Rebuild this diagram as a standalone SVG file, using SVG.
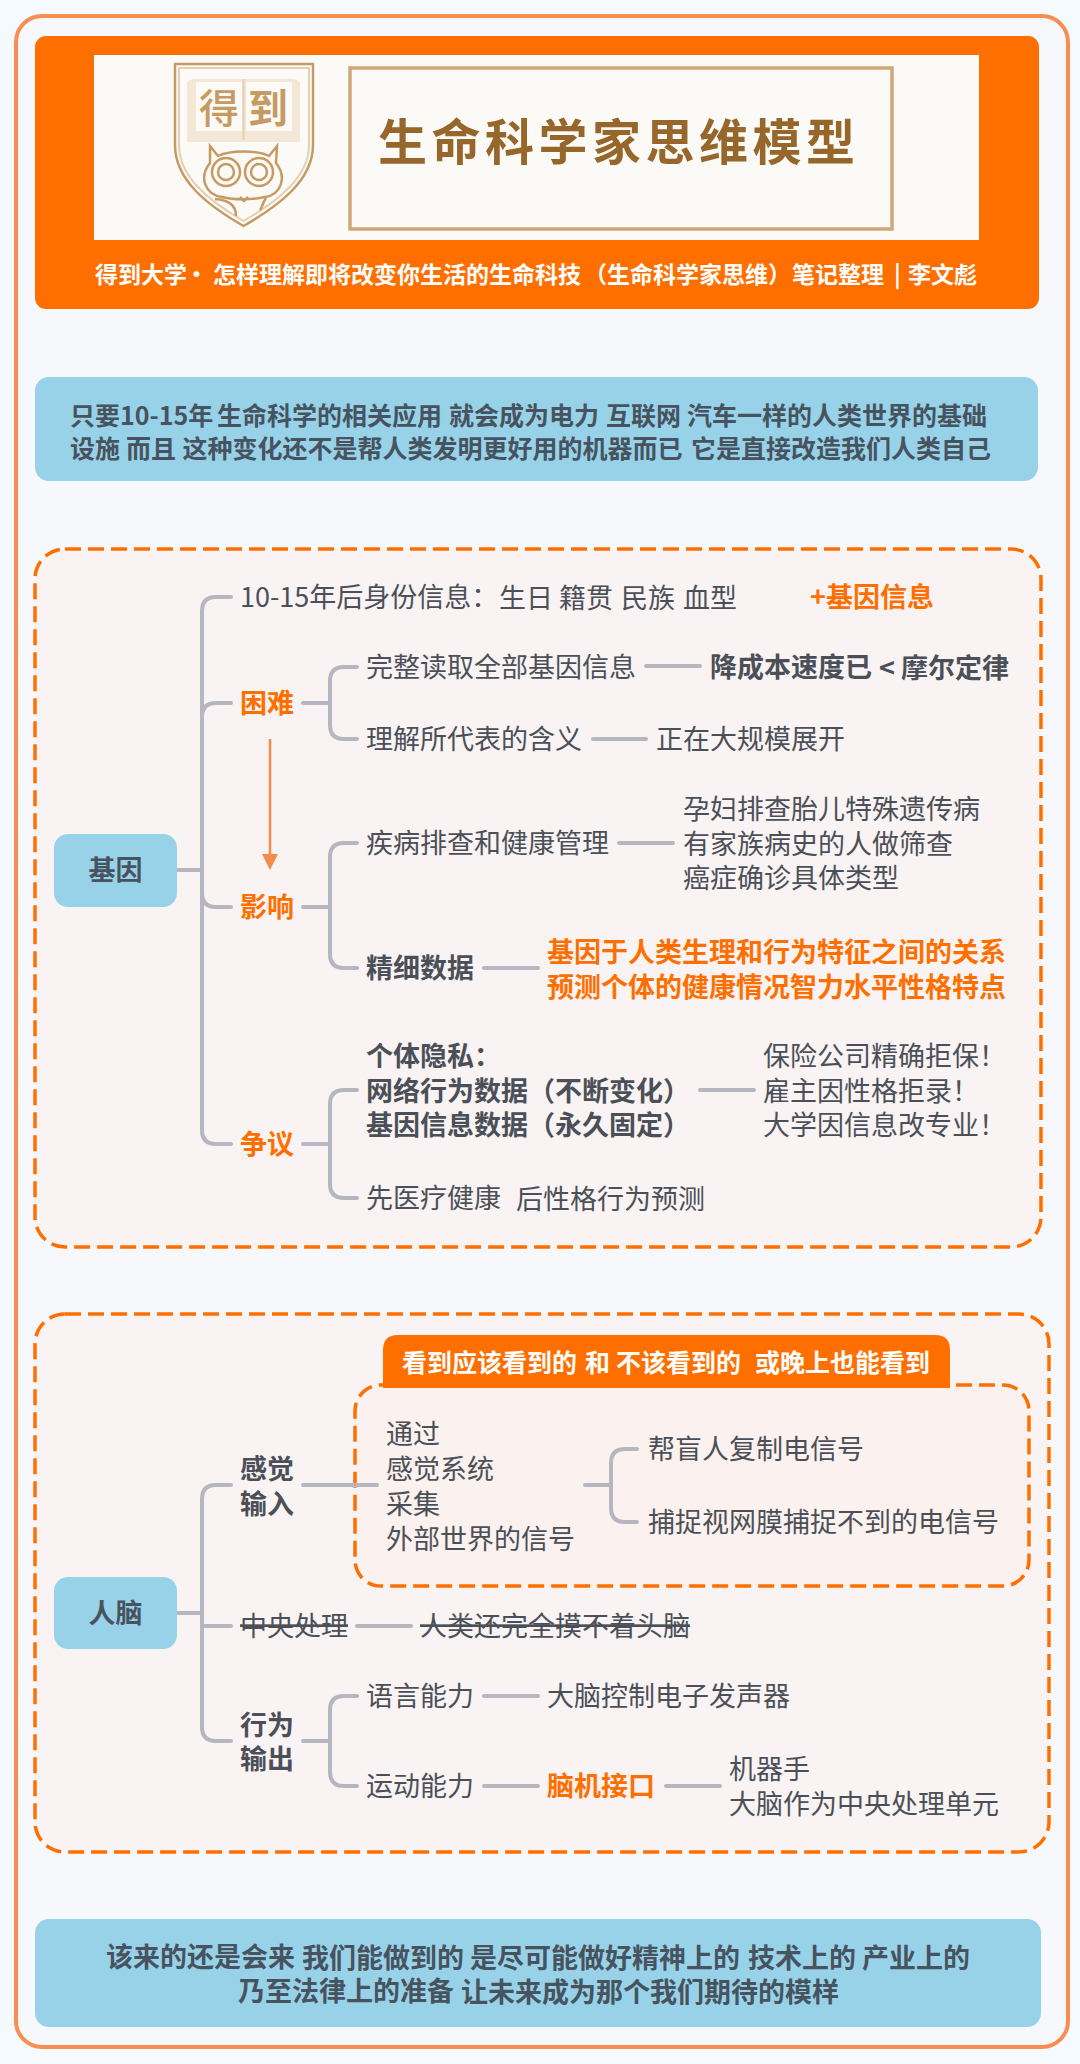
<svg xmlns="http://www.w3.org/2000/svg" width="1080" height="2064" viewBox="0 0 1080 2064">
<style>
text{font-family:"Noto Sans CJK SC","Noto Sans",sans-serif;font-size:27px;fill:#4b5058;dominant-baseline:central;transform:translateY(-1.500px)}
.b{font-weight:700}
.o{font-weight:700;fill:#ff6f00}
.w{font-weight:700;fill:#fff}
.d{font-weight:700;fill:#47535f}
.s{text-decoration:line-through}
.c{fill:none;stroke:#b6b6c0;stroke-width:4;stroke-linecap:round}
.z{stroke:#ff6f00;stroke-width:3.5;stroke-dasharray:16 7;fill:#f9f3f3}
.blue{fill:#98d2e8}
.g{fill:none;stroke:#c69a63;stroke-width:2.5}
.g2{fill:none;stroke:#e4cfb4;stroke-width:2}
</style>
<defs>
<marker id="ah" markerUnits="userSpaceOnUse" markerWidth="16" markerHeight="16" refX="1" refY="8" orient="auto" viewBox="0 0 16 16"><path d="M0 0L16 8L0 16Z" fill="#f58a4b"/></marker>
</defs>
<rect width="1080" height="2064" fill="#f5fafe"/>
<rect id="frame" x="16" y="16" width="1052" height="2031" rx="26" fill="#f7f8fb" stroke="#f98d52" stroke-width="4"/>

<g id="header">
<rect x="35" y="36" width="1004" height="273" rx="11" fill="#ff6f00"/>
<rect x="94" y="55" width="885" height="185" fill="#fbfaf7"/>
<rect x="350" y="68" width="542" height="161" fill="none" stroke="#cfa877" stroke-width="3.500"/>
<text x="378" y="140" class="b" style="font-size:49px;letter-spacing:4.500px;fill:#96662a">生命科学家思维模型</text>
<g id="logo">
<path class="g" d="M175 64H313V145C313 180 280 205 243.500 226C207 205 175 180 175 145Z"/>
<path class="g2" d="M179 68H309V145C309 177 278 201 243.500 221C209 201 179 177 179 145Z"/>
<path d="M187 82Q192 78 200 79H287Q295 78 300 82V142H187Z" fill="#f3e7d6"/>
<rect x="196" y="82" width="46" height="49" fill="#fbfaf7"/>
<rect x="246" y="82" width="46" height="49" fill="#fbfaf7"/>
<path class="g2" d="M243.500 79V140"/>
<text x="219" y="107" text-anchor="middle" style="font-size:40px;font-weight:500;fill:#c69a63">得</text>
<text x="268" y="107" text-anchor="middle" style="font-size:40px;font-weight:700;fill:#c69a63">到</text>
<path class="g" d="M210 146L218 156C230 150 257 150 269 156L277 146L276 163C288 178 280 195 265 197C252 200 234 200 222 197C206 195 198 178 210 163Z"/>
<circle class="g" cx="226" cy="172" r="14"/><circle class="g" cx="226" cy="172" r="8"/>
<circle class="g" cx="259" cy="172" r="14"/><circle class="g" cx="259" cy="172" r="8"/>
<path class="g" d="M215 199C230 200 236 206 236 216M266 198C262 204 262 208 260 210M240 197L244 201L248 197"/>
</g>
<text x="95" y="274" class="w" style="font-size:23px">得到大学<tspan x="185">·</tspan><tspan x="213">怎样理解即将改变你生活的生命科技</tspan><tspan x="584">（生命科学家思维）</tspan><tspan x="792">笔记整理</tspan><tspan x="894">|</tspan><tspan x="908">李文彪</tspan></text>
</g>

<g id="intro">
<rect class="blue" x="35" y="377" width="1003" height="104" rx="14"/>
<text x="70" y="415" class="d" style="font-size:25px">只要10-15年<tspan x="217">生命科学的相关应用</tspan><tspan x="449">就会成为电力</tspan><tspan x="606">互联网</tspan><tspan x="687">汽车一样的人类世界的基础</tspan></text>
<text x="70" y="448" class="d" style="font-size:25px">设施<tspan x="126">而且</tspan><tspan x="182.500">这种变化还不是帮人类发明更好用的机器而已</tspan><tspan x="691">它是直接改造我们人类自己</tspan></text>
</g>

<rect id="gene-box" class="z" x="35" y="549" width="1006" height="698" rx="30"/>
<rect id="brain-box" class="z" x="35" y="1314" width="1014" height="538" rx="30"/>
<rect id="sense-box" class="z" x="355" y="1385" width="674" height="201" rx="26" style="fill:#fbf1ee"/>
<g id="sense-tab">
<path d="M383 1388V1350Q383 1335 398 1335H935Q950 1335 950 1350V1388Z" fill="#ff6f00"/>
<text x="402" y="1362" class="w" style="font-size:25px">看到应该看到的<tspan x="585">和</tspan><tspan x="616">不该看到的</tspan><tspan x="755">或晚上也能看到</tspan></text>
</g>

<g id="connectors">
<path class="c" d="M177 870H202M231 597H216Q202 597 202 611V1130Q202 1144 216 1144H231M231 703H216Q202 703 202 717M231 907H216Q202 907 202 893"/>
<path class="c" d="M303 703H330M357 667H344Q330 667 330 681V725Q330 739 344 739H357"/>
<path class="c" d="M646 666H700M593 739H646"/>
<path class="c" d="M303 907H330M357 843H344Q330 843 330 857V954Q330 968 344 968H357M619 843H673M484 968H538"/>
<path class="c" d="M303 1144H330M357 1090H344Q330 1090 330 1104V1184Q330 1198 344 1198H357M700 1090H754"/>
<path d="M270 739V855" fill="none" stroke="#f58a4b" stroke-width="2.500" marker-end="url(#ah)"/>
<path class="c" d="M177 1613H202M231 1485H216Q202 1485 202 1499V1727Q202 1741 216 1741H231M202 1626H231"/>
<path class="c" d="M303 1485H377M585 1485H611M637 1449H625Q611 1449 611 1463V1508Q611 1522 625 1522H637"/>
<path class="c" d="M357 1626H411"/>
<path class="c" d="M303 1741H330M357 1696H344Q330 1696 330 1710V1772Q330 1786 344 1786H357M484 1696H538M484 1786H538M666 1786H720"/>
</g>

<g id="gene"><rect class="blue" x="54" y="834" width="123" height="73" rx="14"/><text x="115.500" y="870" text-anchor="middle" class="d">基因</text></g>
<g id="n-identity"><text x="240" y="597">10-15年后身份信息：<tspan x="499">生日</tspan><tspan x="559">籍贯</tspan><tspan x="621">民族</tspan><tspan x="683">血型</tspan></text></g>
<g id="n-plus"><text x="810" y="597" class="o">+基因信息</text></g>
<g id="n-difficulty"><text x="240" y="703" class="o">困难</text></g>
<g id="n-read"><text x="366" y="667">完整读取全部基因信息</text></g>
<g id="n-cost"><text x="710" y="667" class="b">降成本速度已<tspan x="879">&lt;</tspan><tspan x="901">摩尔定律</tspan></text></g>
<g id="n-meaning"><text x="366" y="739">理解所代表的含义</text></g>
<g id="n-ongoing"><text x="656" y="739">正在大规模展开</text></g>
<g id="n-impact"><text x="240" y="907" class="o">影响</text></g>
<g id="n-screening"><text x="366" y="843">疾病排查和健康管理</text></g>
<g id="n-screen-list"><text x="683" y="809">孕妇排查胎儿特殊遗传病</text><text x="683" y="844">有家族病史的人做筛查</text><text x="683" y="878">癌症确诊具体类型</text></g>
<g id="n-finedata"><text x="366" y="968" class="b">精细数据</text></g>
<g id="n-finedata-list"><text x="547" y="952" class="o">基因于人类生理和行为特征之间的关系</text><text x="547" y="987" class="o">预测个体的健康情况智力水平性格特点</text></g>
<g id="n-dispute"><text x="240" y="1144" class="o">争议</text></g>
<g id="n-privacy"><text x="366" y="1056" class="b">个体隐私：</text><text x="366" y="1091" class="b">网络行为数据（不断变化）</text><text x="366" y="1125" class="b">基因信息数据（永久固定）</text></g>
<g id="n-reject"><text x="763" y="1056">保险公司精确拒保！</text><text x="763" y="1091">雇主因性格拒录！</text><text x="763" y="1125">大学因信息改专业！</text></g>
<g id="n-first"><text x="366" y="1198">先医疗健康<tspan x="516">后性格行为预测</tspan></text></g>

<g id="brain"><rect class="blue" x="54" y="1577" width="123" height="72" rx="14"/><text x="115.500" y="1613" text-anchor="middle" class="d">人脑</text></g>
<g id="n-input"><text x="240" y="1469" class="b">感觉</text><text x="240" y="1504" class="b">输入</text></g>
<g id="n-via"><text x="386" y="1434">通过</text><text x="386" y="1469">感觉系统</text><text x="386" y="1504">采集</text><text x="386" y="1539">外部世界的信号</text></g>
<g id="n-blind"><text x="648" y="1449">帮盲人复制电信号</text></g>
<g id="n-retina"><text x="648" y="1522">捕捉视网膜捕捉不到的电信号</text></g>
<g id="n-central"><text x="240" y="1626" class="s">中央处理</text></g>
<g id="n-unknown"><text x="420" y="1626" class="s">人类还完全摸不着头脑</text></g>
<g id="n-output"><text x="240" y="1725" class="b">行为</text><text x="240" y="1759" class="b">输出</text></g>
<g id="n-speech"><text x="366" y="1696">语言能力</text></g>
<g id="n-voice"><text x="547" y="1696">大脑控制电子发声器</text></g>
<g id="n-motor"><text x="366" y="1786">运动能力</text></g>
<g id="n-bci"><text x="547" y="1786" class="o">脑机接口</text></g>
<g id="n-robot"><text x="729" y="1769">机器手</text><text x="729" y="1804">大脑作为中央处理单元</text></g>

<g id="footer">
<rect class="blue" x="35" y="1919" width="1006" height="108" rx="14"/>
<text x="106" y="1957" class="d">该来的还是会来<tspan x="302">我们能做到的</tspan><tspan x="470">是尽可能做好精神上的</tspan><tspan x="748">技术上的</tspan><tspan x="862">产业上的</tspan></text>
<text x="238" y="1991" class="d">乃至法律上的准备<tspan x="461">让未来成为那个我们期待的模样</tspan></text>
</g>
</svg>
